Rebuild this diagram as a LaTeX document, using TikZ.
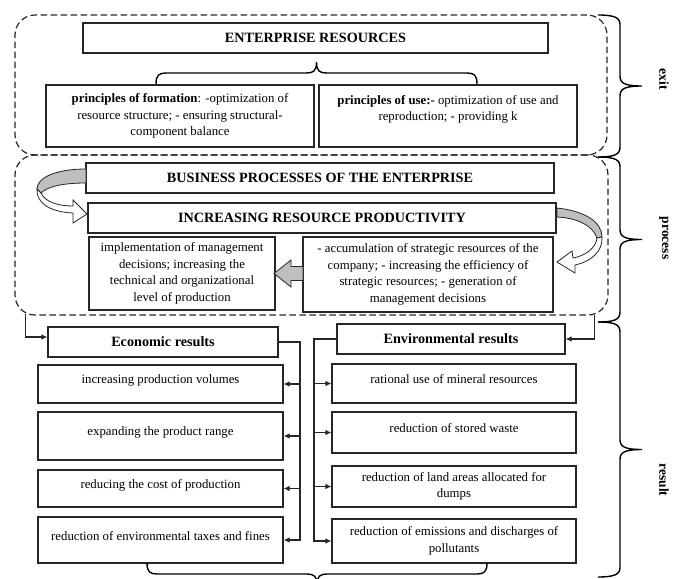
\documentclass[tikz,border=0pt]{standalone}
\usepackage{fontspec}
\setmainfont{Liberation Serif}
\usetikzlibrary{positioning, arrows.meta}

\tikzset{
	box/.style={draw=black!85, line width=1.1pt, fill=white, inner sep=2pt, align=center, font=\fontsize{12.8}{16.5}\selectfont},
	lst/.style={box, text depth=9pt},
	head/.style={box, font=\fontsize{14.2}{17}\selectfont\bfseries},
	frame/.style={draw=black!85, line width=1.2pt, dash pattern=on 6.5pt off 3.5pt, rounded corners=20pt, inner sep=0pt},
	brc/.style={draw=black, line width=1.4pt},
	side/.style={font=\fontsize{13.5}{16}\selectfont\bfseries, rotate=-90},
	turn/.style={draw=black!85, line width=0.8pt},
	link/.style={draw=black!85, line width=1.1pt, -{Latex[length=6pt, width=5.5pt]}}
}

%% brace, tip to the right: ends x, top y, bottom y, amplitude
\newcommand{\vbrc}[4]{%
	\draw[brc] (#1,#2) .. controls ({#1+0.4*(#4)},#2) and ({#1+0.5*(#4)},{#2+3}) .. ({#1+0.5*(#4)},{#2+10})
		-- ({#1+0.5*(#4)},{(#2+#3)/2-10}) .. controls ({#1+0.5*(#4)},{(#2+#3)/2-3}) and ({#1+0.6*(#4)},{(#2+#3)/2}) .. ({#1+#4},{(#2+#3)/2})
		.. controls ({#1+0.6*(#4)},{(#2+#3)/2}) and ({#1+0.5*(#4)},{(#2+#3)/2+3}) .. ({#1+0.5*(#4)},{(#2+#3)/2+10})
		-- ({#1+0.5*(#4)},{#3-10}) .. controls ({#1+0.5*(#4)},{#3-3}) and ({#1+0.4*(#4)},#3) .. (#1,#3);}

%% brace, tip up or down: ends y, left x, right x, signed amplitude
\newcommand{\hbrc}[4]{%
	\draw[brc] (#2,#1) .. controls (#2,{#1+0.4*(#4)}) and ({#2+3},{#1+0.5*(#4)}) .. ({#2+10},{#1+0.5*(#4)})
		-- ({(#2+#3)/2-10},{#1+0.5*(#4)}) .. controls ({(#2+#3)/2-3},{#1+0.5*(#4)}) and ({(#2+#3)/2},{#1+0.6*(#4)}) .. ({(#2+#3)/2},{#1+#4})
		.. controls ({(#2+#3)/2},{#1+0.6*(#4)}) and ({(#2+#3)/2+3},{#1+0.5*(#4)}) .. ({(#2+#3)/2+10},{#1+0.5*(#4)})
		-- ({#3-10},{#1+0.5*(#4)}) .. controls ({#3-3},{#1+0.5*(#4)}) and (#3,{#1+0.4*(#4)}) .. (#3,#1);}

\begin{document}
\begin{tikzpicture}[x=1pt, y=-1pt]
			\useasboundingbox (0,0) rectangle (673,579);

			%% Frames
			\node[frame, minimum width=592pt, minimum height=140pt] (exitfr) at (311,85) {};
			\node[frame, minimum width=593pt, minimum height=160pt] (procfr) at (311.5,235) {};

			%% Resources
			\node[head, minimum width=465pt, minimum height=30pt] (res) at (315.5,38) {ENTERPRISE RESOURCES};
			\node[box, minimum width=268pt, minimum height=62pt] (form) at (180,116)
				{\textbf{principles of formation}: -optimization of\\resource structure; - ensuring structural-\\component balance};
			\node[box, minimum width=258pt, minimum height=62pt] (use) at (448,116)
				{\textbf{principles of use:-} optimization of use and\\reproduction; - providing k\\\mbox{}};
			\hbrc{84}{156}{477}{-22}

			%% Processes
			\node[head, minimum width=468pt, minimum height=30pt] (bp) at (320,178) {BUSINESS PROCESSES OF THE ENTERPRISE};
			\node[head, minimum width=468pt, minimum height=30pt] (irp) at (322,218) {INCREASING RESOURCE PRODUCTIVITY};
			\node[box, minimum width=186pt, minimum height=73pt] (impl) at (182,273.5)
				{implementation of management\\decisions; increasing the\\technical and organizational\\level of production};
			\node[box, minimum width=250pt, minimum height=75pt] (accu) at (428,274.5)
				{- accumulation of strategic resources of the\\company; - increasing the efficiency of\\strategic resources; - generation of\\management decisions};

			%% Turn arrows
			\draw[turn, fill=black!25] (86,169) .. controls (55,169) and (37,178) .. (37,189)
				-- (41,193) .. controls (48,186) and (65,183) .. (86,183) -- cycle;
			\draw[turn, fill=white] (37,189) .. controls (36,203) and (50,212) .. (73,213)
				-- (73,223) -- (87,214) -- (73,200) -- (73,206) .. controls (58,206) and (45,202) .. (41,193) -- cycle;
			\draw[turn, fill=black!25] (557,208) .. controls (585,211) and (602,222) .. (602,237)
				-- (597,238) .. controls (593,226) and (578,218) .. (557,217) -- cycle;
			\draw[turn, fill=white] (602,237) .. controls (603,252) and (590,262) .. (575,265)
				-- (575,273) -- (557,262) -- (572,251) -- (573,258) .. controls (585,256) and (596,248) .. (597,238) -- cycle;

			%% Block arrow
			\draw[turn, fill=black!25] (274,273.5) -- (291,260) -- (291,266.5) -- (303,266.5)
				-- (303,280.5) -- (291,280.5) -- (291,287) -- cycle;

			%% Results
			\node[head, minimum width=230pt, minimum height=30pt] (eco) at (163,342) {Economic results};
			\node[head, minimum width=228pt, minimum height=30pt] (env) at (451,339) {Environmental results};

			\node[lst, minimum width=245pt, minimum height=38pt] (e1) at (160.5,384) {increasing production volumes};
			\node[lst, minimum width=245pt, minimum height=48pt] (e2) at (160.5,436) {expanding the product range};
			\node[lst, minimum width=245pt, minimum height=37pt] (e3) at (160.5,488.5) {reducing the cost of production};
			\node[lst, minimum width=245pt, minimum height=46pt] (e4) at (160.5,540) {reduction of environmental taxes and fines};

			\node[lst, minimum width=244pt, minimum height=39pt] (n1) at (454,383.5) {rational use of mineral resources};
			\node[lst, minimum width=244pt, minimum height=41pt] (n2) at (454,432.5) {reduction of stored waste};
			\node[box, minimum width=244pt, minimum height=41pt] (n3) at (454,486.5) {reduction of land areas allocated for\\dumps};
			\node[box, minimum width=244pt, minimum height=44pt] (n4) at (454,541) {reduction of emissions and discharges of\\pollutants};

			%% Links
			\draw[link] ([shift={(11pt,2pt)}]procfr.south west) |- ([yshift=5pt]eco.west);
			\draw[link] ([shift={(-14pt,1pt)}]procfr.south east) |- (env.east);

			\coordinate (ecobus) at (300,342);
			\draw[link] (eco.east) -| (ecobus |- e4.east) -- (e4.east);
			\draw[link] (ecobus |- e1.east) -- (e1.east);
			\draw[link] (ecobus |- e2.east) -- (e2.east);
			\draw[link] (ecobus |- e3.east) -- (e3.east);

			\coordinate (envbus) at (314,339);
			\draw[link] (env.west) -| (envbus |- n4.west) -- (n4.west);
			\draw[link] (envbus |- n1.west) -- (n1.west);
			\draw[link] (envbus |- n2.west) -- (n2.west);
			\draw[link] (envbus |- n3.west) -- (n3.west);

			%% Braces
			\hbrc{563}{147}{487}{22}
			\vbrc{598}{15}{157}{44}
			\vbrc{598}{157}{322}{44}
			\vbrc{598}{322}{577}{44}

			%% Side labels
			\node[side] (exitlbl) at (664,79) {exit};
			\node[side] (proclbl) at (664,238) {process};
			\node[side] (reslbl) at (664,480) {result};
		\end{tikzpicture}
\end{document}
